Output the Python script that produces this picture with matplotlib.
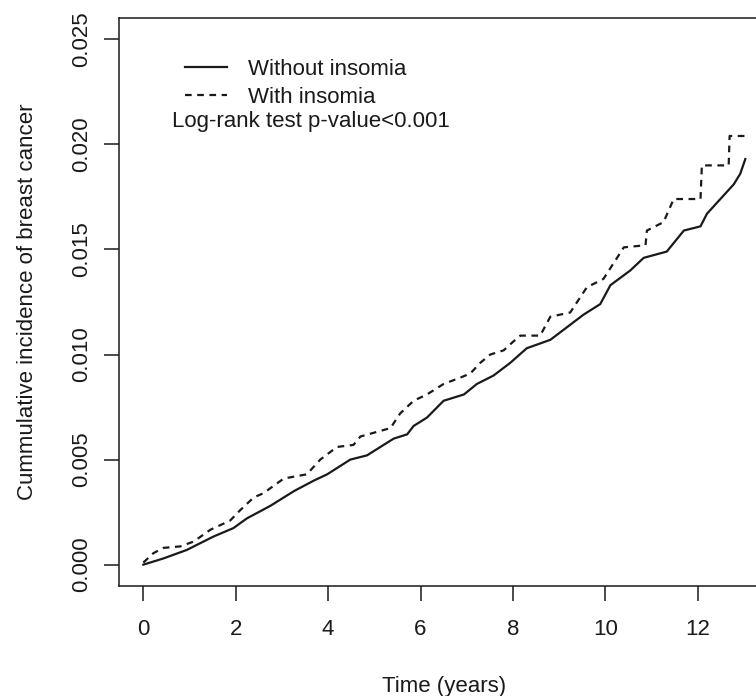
import matplotlib
matplotlib.use("Agg")
import matplotlib.pyplot as plt
from matplotlib.ticker import FormatStrFormatter

plt.rcParams['font.family'] = ['Liberation Sans', 'DejaVu Sans']

# Without insomia (solid)
t_without = [0, 0.44, 0.94, 1.52, 1.95, 2.24, 2.75, 3.26, 3.69, 3.98, 4.48, 4.84,
             5.42, 5.71, 5.85, 6.14, 6.5, 6.94, 7.22, 7.58, 7.94, 8.3, 8.81, 9.53,
             9.89, 10.11, 10.54, 10.83, 11.33, 11.7, 12.06, 12.2, 12.49, 12.78,
             12.92, 13.03]
v_without = [0, 0.0003, 0.0007, 0.00134, 0.00174, 0.0022, 0.0028, 0.0035, 0.0040,
             0.0043, 0.0050, 0.0052, 0.0060, 0.0062, 0.0066, 0.0070, 0.0078, 0.0081,
             0.0086, 0.0090, 0.0096, 0.0103, 0.0107, 0.0119, 0.0124, 0.0133, 0.0140,
             0.0146, 0.0149, 0.0159, 0.0161, 0.0167, 0.0174, 0.0181, 0.0186, 0.0193]

# With insomia (dashed)
t_with = [0, 0.22, 0.44, 0.8, 1.09, 1.45, 1.88, 2.1, 2.39, 2.6, 3.04, 3.54, 3.83,
          4.19, 4.55, 4.7, 5.35, 5.56, 5.85, 6.14, 6.5, 6.86, 7.08, 7.29, 7.51, 7.8,
          8.0, 8.16, 8.59, 8.81, 9.24, 9.6, 9.96, 10.4, 10.87, 10.9, 11.26, 11.48,
          12.06, 12.09, 12.67, 12.69, 13.03]
v_with = [0.0001, 0.00055, 0.0008, 0.00087, 0.0011, 0.00166, 0.0021, 0.0026, 0.0032,
          0.0034, 0.0041, 0.0043, 0.0050, 0.0056, 0.0057, 0.0061, 0.0065, 0.0072,
          0.0078, 0.0081, 0.0086, 0.0089, 0.0091, 0.0096, 0.0100, 0.0102, 0.0106,
          0.0109, 0.0109, 0.0118, 0.0120, 0.0132, 0.0136, 0.0151, 0.0152, 0.0159,
          0.0163, 0.0174, 0.0174, 0.0190, 0.0190, 0.0204, 0.0204]

x_ticks = [0, 2, 4, 6, 8, 10, 12]
y_ticks = [0.000, 0.005, 0.010, 0.015, 0.020, 0.025]
labels = ["Without insomia", "With insomia"]
note = "Log-rank test p-value<0.001"
x_label = "Time (years)"
y_label = "Cummulative incidence of breast cancer"

FS = 16
ink = '#1a1a1a'

fig = plt.figure(figsize=(7.56, 6.96), dpi=100)
ax = fig.add_axes([0.1578, 0.1585, 0.858, 0.8152])

l1, = ax.plot(t_without, v_without, color=ink, lw=1.6, solid_joinstyle='miter')
l2, = ax.plot(t_with, v_with, color=ink, lw=1.6, dashes=(3, 2.5))

ax.set_xlim(-0.52, 13.52)
ax.set_ylim(-0.001, 0.026)
ax.set_xticks(x_ticks)
ax.set_yticks(y_ticks)
ax.yaxis.set_major_formatter(FormatStrFormatter('%.3f'))

for s in ax.spines.values():
    s.set_linewidth(1.1)
    s.set_color(ink)

ax.tick_params(axis='both', direction='out', length=10.5, width=1.1, colors=ink,
               labelsize=FS, labelcolor=ink)
ax.tick_params(axis='x', pad=13.5)
ax.tick_params(axis='y', pad=9)
for lab in ax.get_yticklabels():
    lab.set_rotation(90)
    lab.set_va('center')
    lab.set_ha('right')

ax.set_xlabel(x_label, fontsize=FS, color=ink)
ax.xaxis.set_label_coords(0.5, -0.178)
ax.xaxis.label.set_va('center')
ax.set_ylabel(y_label, fontsize=FS, color=ink)
ax.yaxis.set_label_coords(-0.141, 0.5)
ax.yaxis.label.set_va('center')

leg = ax.legend([l1, l2], labels, loc='upper left', bbox_to_anchor=(0.1013, 0.928),
                frameon=False, fontsize=FS, handlelength=1.89, handletextpad=0.95,
                labelspacing=0.29, borderpad=0, borderaxespad=0)
for t in leg.get_texts():
    t.set_color(ink)

ax.text(0.0812, 0.819, note, transform=ax.transAxes, fontsize=FS, color=ink,
        va='center', ha='left')

fig.savefig("out.png", dpi=100)
